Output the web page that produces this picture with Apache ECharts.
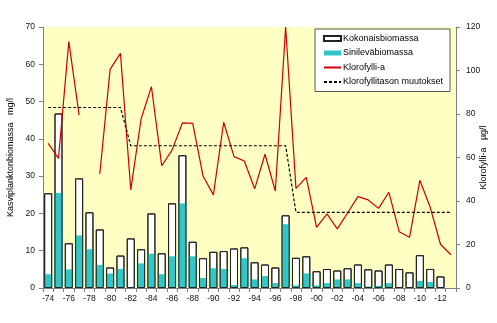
<!DOCTYPE html>
<html>
<head>
<meta charset="utf-8">
<script src="https://cdn.jsdelivr.net/npm/echarts@6/dist/echarts.min.js"></script>
<style>html,body{margin:0;padding:0;background:#fff;}#c{width:497px;height:323px;}</style>
</head>
<body>
<div id="c"></div>
<script>
var years = ['-74','-75','-76','-77','-78','-79','-80','-81','-82','-83','-84','-85','-86','-87','-88','-89','-90','-91','-92','-93','-94','-95','-96','-97','-98','-99','-00','-01','-02','-03','-04','-05','-06','-07','-08','-09','-10','-11','-12','-13'];
var kokonaisbiomassa = [25.4,46.8,12.0,29.4,20.3,15.7,5.5,8.7,13.3,10.4,20.0,9.3,22.7,35.6,12.4,8.0,9.7,9.9,10.6,10.9,6.9,6.3,5.5,19.5,8.1,8.5,4.5,5.1,4.7,5.3,6.3,5.0,4.7,6.3,5.1,4.2,8.8,5.1,3.1,null];
var sinilevabiomassa = [3.7,25.5,5.0,14.1,10.4,6.2,3.9,5.1,0.2,6.6,9.2,3.7,8.5,22.7,8.5,2.7,5.3,5.1,0.8,8.0,2.3,3.2,1.3,17.1,0.7,3.9,0.7,1.3,2.3,2.3,1.3,0.4,0.6,1.3,0.1,0.2,1.9,1.6,0.3,null];
var klorofylli = [66.5,59.6,113.3,79.5,null,52.4,100.5,107.9,45.1,77.7,92.6,56.2,63.4,75.9,75.7,51.5,42.8,76.2,60.4,58.4,45.6,61.5,44.6,120,45.8,50.9,27.9,34.1,27.2,34.5,42.0,40.5,36.6,44.0,25.9,23.3,49.5,37.1,20.1,15.3];
var muutokset = [83,83,83,83,83,83,83,83,65.4,65.4,65.4,65.4,65.4,65.4,65.4,65.4,65.4,65.4,65.4,65.4,65.4,65.4,65.4,65.4,34.8,34.8,34.8,34.8,34.8,34.8,34.8,34.8,34.8,34.8,34.8,34.8,34.8,34.8,34.8,34.8];
var leftTicks = {min:0, max:70, interval:10};
var rightTicks = {min:0, max:120, interval:20};

var chart = echarts.init(document.getElementById('c'), null, {renderer:'canvas'});
var font = 'Liberation Sans';
var axisCol = '#808080';
chart.setOption({
  animation:false,
  textStyle:{fontFamily:font},
  grid:{left:43,right:41,top:27,bottom:35,show:true,backgroundColor:'#FFFFC4',borderWidth:0,containLabel:false,outerBoundsMode:'none'},
  legend:{
    orient:'vertical', left:315, top:29, padding:[5,7,5,8],
    itemWidth:17, itemHeight:5, itemGap:5.5,
    backgroundColor:'#fff', borderColor:'#555', borderWidth:1, borderRadius:0,
    textStyle:{fontFamily:font,fontSize:9,color:'#000',padding:[0,0,0,-3]},
    data:[{name:'Kokonaisbiomassa',icon:'rect'},{name:'Sinileväbiomassa',icon:'rect'},
          {name:'Klorofylli-a',itemStyle:{opacity:0}},{name:'Klorofyllitason muutokset',itemStyle:{opacity:0}}]
  },
  xAxis:{
    type:'category', data:years, boundaryGap:true,
    axisLine:{lineStyle:{color:axisCol,width:1}},
    axisTick:{show:true,interval:0,length:4,lineStyle:{color:axisCol}},
    axisLabel:{interval:1,fontSize:8.5,color:'#111',margin:6,fontFamily:font}
  },
  yAxis:[{
    type:'value', min:leftTicks.min, max:leftTicks.max, interval:leftTicks.interval,
    name:'Kasviplanktonbiomassa   mg/l', nameLocation:'middle', nameGap:28, nameRotate:90, nameMoveOverlap:false,
    nameTextStyle:{fontSize:9,color:'#000',fontFamily:font},
    axisLine:{show:true,lineStyle:{color:axisCol}},
    axisTick:{show:true,length:4,lineStyle:{color:axisCol}},
    axisLabel:{fontSize:8.5,color:'#111',margin:8,fontFamily:font},
    splitLine:{show:false}
  },{
    type:'value', min:rightTicks.min, max:rightTicks.max, interval:rightTicks.interval,
    name:'Klorofylli-a   µg/l', nameLocation:'middle', nameGap:23, nameRotate:90, nameMoveOverlap:false,
    nameTextStyle:{fontSize:9,color:'#000',fontFamily:font},
    axisLine:{show:true,lineStyle:{color:axisCol}},
    axisTick:{show:true,length:4,lineStyle:{color:axisCol}},
    axisLabel:{fontSize:8.5,color:'#111',margin:10,fontFamily:font},
    splitLine:{show:false}
  }],
  series:[{
    name:'Kokonaisbiomassa', type:'bar', data:kokonaisbiomassa, barWidth:8, barGap:'-100%',
    itemStyle:{color:'#fff',borderColor:'#222',borderWidth:1}
  },{
    name:'Sinileväbiomassa', type:'bar', data:sinilevabiomassa, barWidth:8, barGap:'-100%',
    itemStyle:{color:'#33C6C6',borderColor:'#222',borderWidth:0}
  },{
    name:'outline', type:'bar', data:kokonaisbiomassa, barWidth:8, barGap:'-100%', silent:true,
    itemStyle:{color:'rgba(0,0,0,0)',borderColor:'#222',borderWidth:1}
  },{
    name:'Klorofylli-a', type:'line', yAxisIndex:1, data:klorofylli, symbol:'none', connectNulls:false,
    lineStyle:{color:'#CC0000',width:1.2}, itemStyle:{color:'#CC0000'}
  },{
    name:'Klorofyllitason muutokset', type:'line', yAxisIndex:1, data:muutokset, symbol:'none',
    lineStyle:{color:'#000',width:1.2,type:[3,2]}, itemStyle:{color:'#000'}
  }]
});
</script>
</body>
</html>
